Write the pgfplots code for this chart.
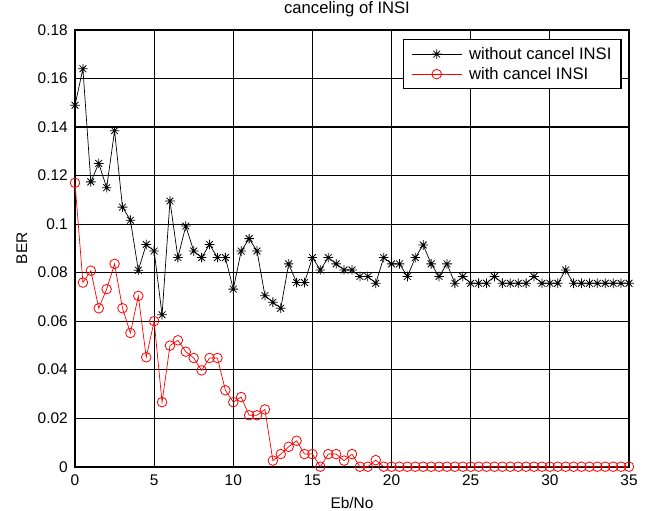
\documentclass[border=0pt]{standalone}
\usepackage{fontspec}
\setmainfont{Liberation Sans}
\usepackage{pgfplots}
\pgfplotsset{compat=1.18}

\pgfdeclareplotmark{matstar}{%
 \pgfpathmoveto{\pgfqpoint{-\pgfplotmarksize}{0pt}}\pgfpathlineto{\pgfqpoint{\pgfplotmarksize}{0pt}}%
 \pgfpathmoveto{\pgfqpoint{0pt}{-\pgfplotmarksize}}\pgfpathlineto{\pgfqpoint{0pt}{\pgfplotmarksize}}%
 \pgfpathmoveto{\pgfqpoint{-0.707\pgfplotmarksize}{-0.707\pgfplotmarksize}}\pgfpathlineto{\pgfqpoint{0.707\pgfplotmarksize}{0.707\pgfplotmarksize}}%
 \pgfpathmoveto{\pgfqpoint{-0.707\pgfplotmarksize}{0.707\pgfplotmarksize}}\pgfpathlineto{\pgfqpoint{0.707\pgfplotmarksize}{-0.707\pgfplotmarksize}}%
 \pgfusepathqstroke}

\begin{document}
\begin{tikzpicture}[font=\fontsize{15.5}{18}\selectfont]
\useasboundingbox (-75bp,-44.3bp) rectangle (571bp,466.7bp);
\begin{axis}[
  at={(0,0)}, anchor=south west,
  scale only axis, width=554bp, height=436.7bp,
  xmin=0, xmax=35, ymin=0, ymax=0.18,
  xtick={0,5,10,15,20,25,30,35},
  ytick={0,0.02,0.04,0.06,0.08,0.1,0.12,0.14,0.16,0.18},
  scaled y ticks=false,
  yticklabel style={/pgf/number format/fixed, /pgf/number format/precision=2, inner sep=0pt, anchor=east, xshift=-7bp},
  xticklabel style={inner sep=0pt, anchor=north, yshift=-8bp},
  /pgf/number format/assume math mode=true,
  major tick length=0pt,
  grid=major,
  grid style={black, line width=1.1bp},
  axis line style={black, line width=1.6bp},
  title={canceling of INSI},
  title style={at={(axis description cs:0.491,1.0245)}, anchor=base, inner sep=0pt, font=\fontsize{16.7}{19}\selectfont},
  xlabel={Eb/No},
  xlabel style={at={(axis description cs:0.5,-0.0946)}, anchor=base, inner sep=0pt},
  ylabel={BER},
  ylabel style={at={(axis description cs:-0.0866,0.5)}, anchor=base, inner sep=0pt},
  clip=false,
  legend style={at={(1,1)}, anchor=north east, xshift=-7.5bp, yshift=-9.3bp,
     draw=black, line width=1.1bp, fill=white, inner xsep=7.5bp, inner ysep=5.5bp, row sep=2.5bp,
     /tikz/every odd column/.append style={column sep=5bp},
     font=\fontsize{16.7}{19}\selectfont},
  legend cell align=left,
  legend image code/.code={\draw[mark repeat=2,mark phase=2] plot coordinates {(0bp,0bp) (25bp,0bp) (50bp,0bp)};},
]
\addplot[black, line width=0.7bp, mark=matstar, mark size=4.8bp, mark options={line width=0.8bp}] coordinates {
(0,0.149) (0.5,0.164) (1,0.1174) (1.5,0.125) (2,0.115) (2.5,0.1385) (3,0.107) (3.5,0.1016)
(4,0.081) (4.5,0.0916) (5,0.0889) (5.5,0.0626) (6,0.1095) (6.5,0.0862) (7,0.0992) (7.5,0.0889)
(8,0.0862) (8.5,0.0916) (9,0.0862) (9.5,0.0862) (10,0.0732) (10.5,0.0889) (11,0.0940) (11.5,0.0889)
(12,0.0705) (12.5,0.0678) (13,0.0653) (13.5,0.0836) (14,0.0759) (14.5,0.0759) (15,0.0862) (15.5,0.0811)
(16,0.0862) (16.5,0.0836) (17,0.0811) (17.5,0.0811) (18,0.0784) (18.5,0.0784) (19,0.0756) (19.5,0.0862)
(20,0.0836) (20.5,0.0836) (21,0.0784) (21.5,0.0862) (22,0.0914) (22.5,0.0836) (23,0.0784) (23.5,0.0836)
(24,0.0756) (24.5,0.0784) (25,0.0756) (25.5,0.0756) (26,0.0756) (26.5,0.0784) (27,0.0756) (27.5,0.0756)
(28,0.0756) (28.5,0.0756) (29,0.0784) (29.5,0.0756) (30,0.0756) (30.5,0.0756) (31,0.0811) (31.5,0.0756)
(32,0.0756) (32.5,0.0756) (33,0.0756) (33.5,0.0756) (34,0.0756) (34.5,0.0756) (35,0.0756)
};
\addlegendentry{without cancel INSI}
\addplot[red, line width=0.7bp, mark=o, mark size=4.8bp, mark options={line width=0.8bp}] coordinates {
(0,0.117) (0.5,0.0759) (1,0.0808) (1.5,0.0653) (2,0.0732) (2.5,0.0836) (3,0.0653) (3.5,0.0551)
(4,0.0704) (4.5,0.0451) (5,0.0600) (5.5,0.0266) (6,0.0499) (6.5,0.0521) (7,0.0474) (7.5,0.0448)
(8,0.0397) (8.5,0.0448) (9,0.0448) (9.5,0.0315) (10,0.0266) (10.5,0.0287) (11,0.0212) (11.5,0.0212)
(12,0.0236) (12.5,0.0025) (13,0.0052) (13.5,0.0082) (14,0.0107) (14.5,0.0052) (15,0.0052) (15.5,0)
(16,0.0052) (16.5,0.0052) (17,0.0025) (17.5,0.0052) (18,0) (18.5,0) (19,0.0027) (19.5,0)
(20,0) (20.5,0) (21,0) (21.5,0) (22,0) (22.5,0) (23,0) (23.5,0)
(24,0) (24.5,0) (25,0) (25.5,0) (26,0) (26.5,0) (27,0) (27.5,0)
(28,0) (28.5,0) (29,0) (29.5,0) (30,0) (30.5,0) (31,0) (31.5,0)
(32,0) (32.5,0) (33,0) (33.5,0) (34,0) (34.5,0) (35,0)
};
\addlegendentry{with cancel INSI}
\end{axis}
\end{tikzpicture}
\end{document}
